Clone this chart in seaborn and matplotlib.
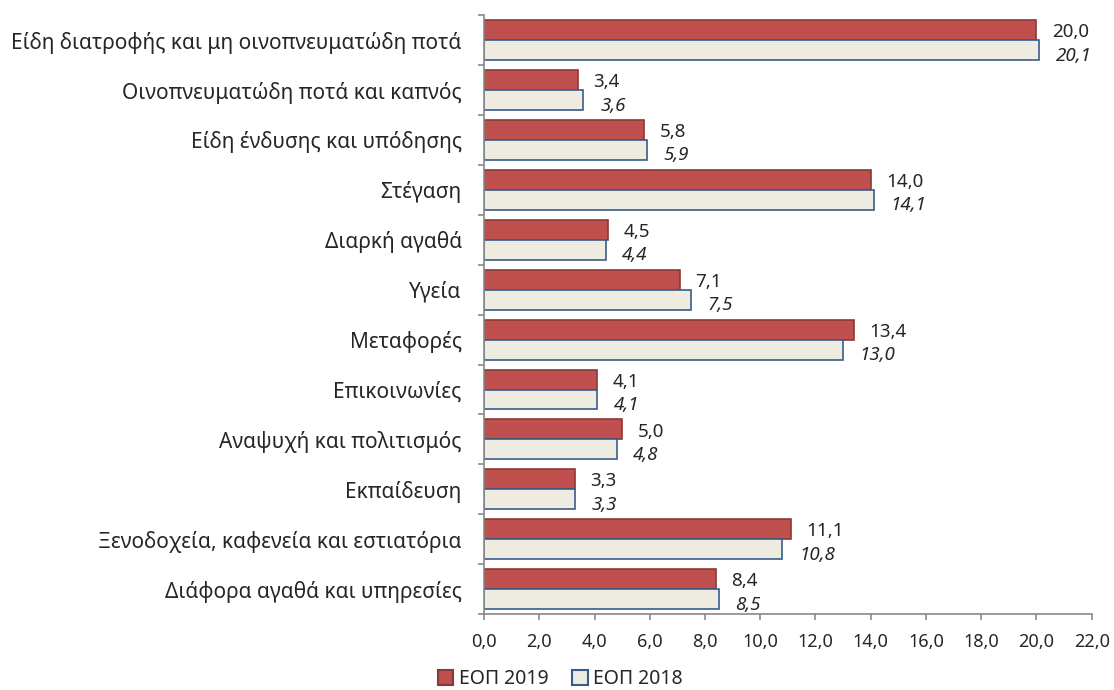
import pandas as pd
import seaborn as sns
import matplotlib.pyplot as plt
import matplotlib.ticker as mtick
from matplotlib.patches import Patch

categories = ['Είδη διατροφής και μη οινοπνευματώδη ποτά',
              'Οινοπνευματώδη ποτά και καπνός',
              'Είδη ένδυσης και υπόδησης',
              'Στέγαση',
              'Διαρκή αγαθά',
              'Υγεία',
              'Μεταφορές',
              'Επικοινωνίες',
              'Αναψυχή και πολιτισμός',
              'Εκπαίδευση',
              'Ξενοδοχεία, καφενεία και εστιατόρια',
              'Διάφορα αγαθά και υπηρεσίες']
eop_2019 = [20.0, 3.4, 5.8, 14.0, 4.5, 7.1, 13.4, 4.1, 5.0, 3.3, 11.1, 8.4]
eop_2018 = [20.1, 3.6, 5.9, 14.1, 4.4, 7.5, 13.0, 4.1, 4.8, 3.3, 10.8, 8.5]
series = ['ΕΟΠ 2019', 'ΕΟΠ 2018']

df = pd.DataFrame({'cat': categories * 2,
                   'value': eop_2019 + eop_2018,
                   'year': [series[0]] * len(categories) + [series[1]] * len(categories)})

sns.set_style('white')
plt.rcParams['font.family'] = ['Noto Sans', 'DejaVu Sans']

face = {'ΕΟΠ 2019': '#C0504D', 'ΕΟΠ 2018': '#EEECE1'}
edge = {'ΕΟΠ 2019': '#8C3836', 'ΕΟΠ 2018': '#385D8A'}

fig = plt.figure(figsize=(11.14, 6.9), dpi=100)
ax = fig.add_axes([0.4345, 0.110, 0.5455, 0.868])

sns.barplot(data=df, y='cat', x='value', hue='year', orient='h', order=categories,
            hue_order=series, palette=face, saturation=1, width=0.8, ax=ax,
            legend=False)

grey = '#898989'
for cont, s in zip(ax.containers, series):
    italic = s == 'ΕΟΠ 2018'
    for bar in cont:
        bar.set_edgecolor(edge[s])
        bar.set_linewidth(1.2)
        w = bar.get_width()
        y = bar.get_y() + bar.get_height() / 2
        ax.annotate(f'{w:.1f}'.replace('.', ','), (w, y),
                    xytext=(12 if italic else 11, -4 if italic else -1.5),
                    textcoords='offset points', ha='left', va='center',
                    fontsize=13.5, style='italic' if italic else 'normal',
                    annotation_clip=False)

ax.set_xlim(0, 22)
ax.set_ylim(len(categories) - 0.5, -0.5)
ax.xaxis.set_major_locator(mtick.MultipleLocator(2))
ax.xaxis.set_major_formatter(mtick.FuncFormatter(lambda v, p: f'{v:.1f}'.replace('.', ',')))
ax.yaxis.set_minor_locator(mtick.FixedLocator([i - 0.5 for i in range(len(categories) + 1)]))
ax.tick_params(axis='y', which='major', left=True, length=0, labelsize=15, pad=16)
ax.tick_params(axis='y', which='minor', left=True, length=4.5, color=grey, width=1.2)
ax.tick_params(axis='x', which='major', bottom=True, length=4.5, color=grey, width=1.2,
               labelsize=13, pad=9)
ax.set_xlabel('')
ax.set_ylabel('')
for sp in ['top', 'right']:
    ax.spines[sp].set_visible(False)
for sp in ['left', 'bottom']:
    ax.spines[sp].set_color(grey)
    ax.spines[sp].set_linewidth(1.2)

handles = [Patch(facecolor=face[s], edgecolor=edge[s], linewidth=1.5) for s in series]
fig.legend(handles, series, loc='center', bbox_to_anchor=(0.503, 0.016), ncol=2,
           frameon=False, fontsize=14, handlelength=0.8, handleheight=0.8,
           handletextpad=0.3, columnspacing=1.2, borderpad=0)

fig.savefig('out.png', dpi=100)
